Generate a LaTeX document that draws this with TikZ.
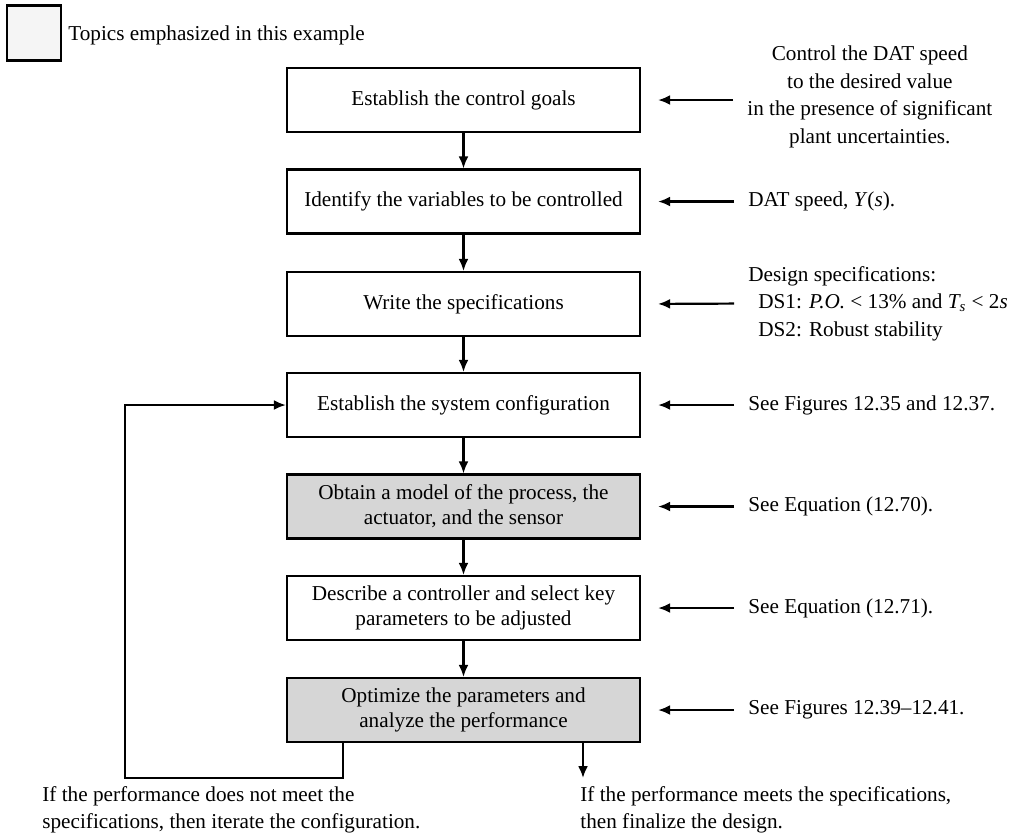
\documentclass[tikz,border=0pt]{standalone}
\usepackage{fontspec}
\setmainfont{Liberation Serif}
\usepackage{xcolor}
\usepackage{tikz}
\usetikzlibrary{arrows.meta,positioning}

\tikzset{
  stepbox/.style={draw,line width=1.1pt,minimum width=176.5pt,minimum height=32pt,inner sep=2pt,align=center,font=\fontsize{10.6pt}{12.5pt}\selectfont},
  shaded/.style={stepbox,fill=black!16},
  note/.style={inner sep=0pt,font=\fontsize{10.6pt}{13.8pt}\selectfont},
  flow/.style={-{Latex[length=6pt,width=5pt]},line width=1.1pt},
  feed/.style={flow,shorten >=8.5pt,shorten <=7pt}
}

\begin{document}
\begin{tikzpicture}[x=0.5pt,y=-0.5pt]
                \useasboundingbox (0,0) rectangle (1029,837);
                % legend
                \node[draw,line width=1.1pt,fill=black!4,minimum width=27pt,minimum height=27.5pt] (legend) at (34,33) {};
                \node[note,anchor=west] (legendtext) at (68,35) {Topics emphasized in this example};
                % design steps
                \node[stepbox] (goals) at (463.5,100) {Establish the control goals};
                \node[stepbox] (vars) at (463.5,201.5) {Identify the variables to be controlled};
                \node[stepbox] (specs) at (463.5,304) {Write the specifications};
                \node[stepbox] (config) at (463.5,405) {Establish the system configuration};
                \node[shaded] (model) at (463.5,506.5) {Obtain a model of the process, the\\actuator, and the sensor};
                \node[stepbox] (ctrl) at (463.5,608) {Describe a controller and select key\\parameters to be adjusted};
                \node[shaded] (optim) at (463.5,710) {Optimize the parameters and\\analyze the performance};
                \foreach \a/\b in {goals/vars,vars/specs,specs/config,config/model,model/ctrl,ctrl/optim}
                \draw[flow] (\a) -- (\b);
                % notes on the right
                \node[note,align=center,anchor=west] (goalsnote) at (747,97) {Control the DAT speed\\to the desired value\\in the presence of significant\\plant uncertainties.};
                \node[note,anchor=west] (varsnote) at (748,201.5) {DAT speed, \textit{Y}(\textit{s}).};
                \node[note,align=left,anchor=west] (specsnote) at (748,303.5) {Design specifications:\\\hspace*{5pt}DS1: \textit{P.O.} < 13\% and \textit{T\textsubscript{s}} < 2\textit{s}\\\hspace*{5pt}DS2: Robust stability};
                \node[note,anchor=west] (confignote) at (748,405) {See Figures 12.35 and 12.37.};
                \node[note,anchor=west] (modelnote) at (748,506.5) {See Equation (12.70).};
                \node[note,anchor=west] (ctrlnote) at (748,608) {See Equation (12.71).};
                \node[note,anchor=west] (optimnote) at (748,710) {See Figures 12.39--12.41.};
                \foreach \n in {vars,specs,config,model,ctrl,optim}
                \draw[feed] (\n note.west) -- (\n.east);
                \draw[feed] (goalsnote.west |- goals) -- (goals.east);
                % iterate or finish
                \coordinate (loopstart) at (343,742);
                \coordinate (loopturn) at (125,778);
                \coordinate (done) at (583,778);
                \draw[flow] (loopstart) |- (loopturn) |- (config.west);
                \draw[flow] (optim.south -| done) -- (done);
                \node[note,align=left,anchor=west] (iterate) at (42,810) {If the performance does not meet the\\specifications, then iterate the configuration.};
                \node[note,align=left,anchor=west] (finish) at (580,810) {If the performance meets the specifications,\\then finalize the design.};
            \end{tikzpicture}
\end{document}
